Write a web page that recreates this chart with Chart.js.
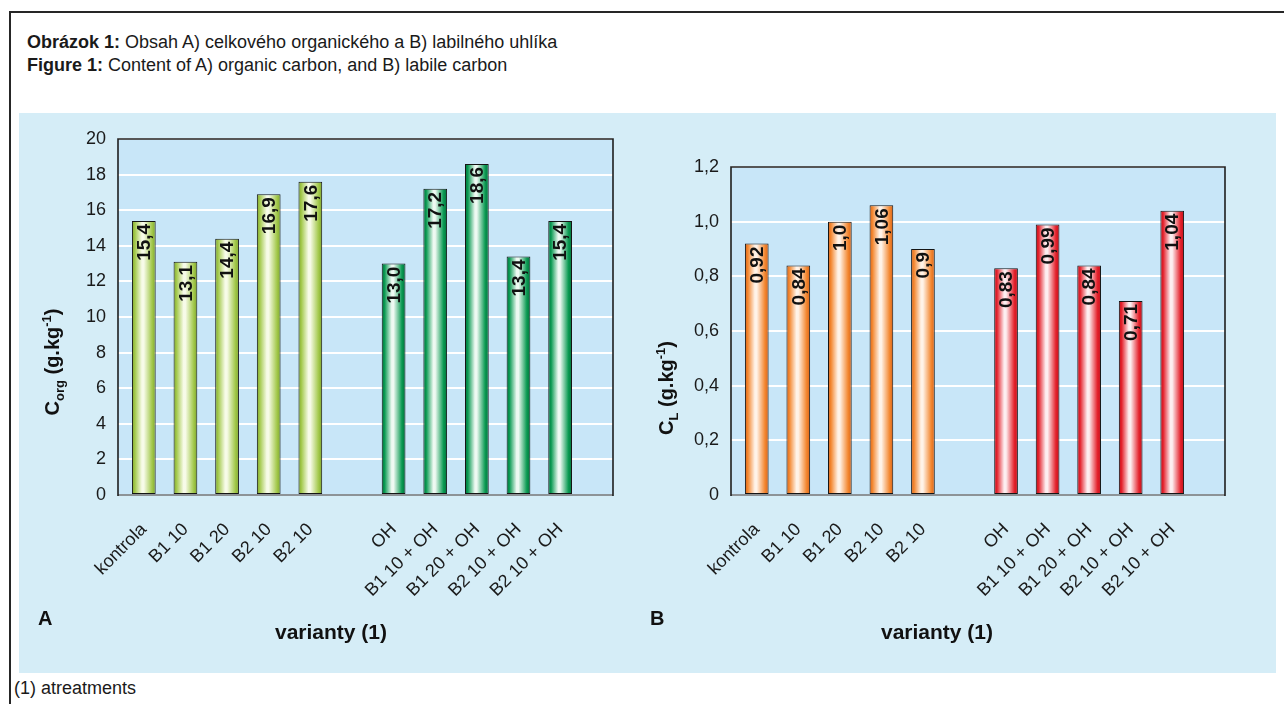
<!DOCTYPE html>
<html lang="sk">
<head>
<meta charset="utf-8">
<title>Obsah organického a labilného uhlíka</title>
<script src="https://cdn.jsdelivr.net/npm/chart.js@4.4.1/dist/chart.umd.min.js"></script>
<style>
  html, body { margin: 0; padding: 0; background: #ffffff; }
  body { position: relative; width: 1284px; height: 704px; overflow: hidden;
         font-family: "Liberation Sans", Arial, sans-serif; color: #1a1a1a; }
  #frame { position: absolute; left: 9px; top: 11px; width: 1400px; height: 800px;
           border-left: 2px solid #262626; border-top: 2px solid #262626; }
  #caption { position: absolute; left: 27px; top: 31px; font-size: 18px; line-height: 23px; }
  #caption b { font-weight: bold; }
  #panel { position: absolute; left: 19px; top: 113px; width: 1257px; height: 560px; background: #d5edf7; }
  #panel canvas { position: absolute; top: 0; }
  #cA { left: 0; }
  #cB { left: 621px; }
  #note { position: absolute; left: 14px; top: 678px; font-size: 18px; line-height: 21px; }
</style>
</head>
<body>
<div id="frame"></div>
<div id="caption">
  <div><b>Obrázok 1:</b> Obsah A) celkového organického a B) labilného uhlíka</div>
  <div><b>Figure 1:</b> Content of A) organic carbon, and B) labile carbon</div>
</div>
<div id="panel">
  <canvas id="cA" width="621" height="560"></canvas>
  <canvas id="cB" width="636" height="560"></canvas>
</div>
<div id="note">(1) atreatments</div>

<script>
// Treatment variants: without and with OH
const variantsBase = ['kontrola', 'B1 10', 'B1 20', 'B2 10', 'B2 10'];
const variantsOH = ['OH', 'B1 10 + OH', 'B1 20 + OH', 'B2 10 + OH', 'B2 10 + OH'];

// A) total organic carbon, g.kg-1
const corgBase = [15.4, 13.1, 14.4, 16.9, 17.6];
const corgOH = [13.0, 17.2, 18.6, 13.4, 15.4];

// B) labile carbon, g.kg-1
const clBase = [0.92, 0.84, 1.0, 1.06, 0.9];
const clOH = [0.83, 0.99, 0.84, 0.71, 1.04];
const clBaseText = ['0,92', '0,84', '1,0', '1,06', '0,9'];
const clOHText = ['0,83', '0,99', '0,84', '0,71', '1,04'];

// Y-axis tick labels
const corgTicks = ['0', '2', '4', '6', '8', '10', '12', '14', '16', '18', '20'];
const clTicks = ['0', '0,2', '0,4', '0,6', '0,8', '1,0', '1,2'];

// Category slots along the x axis; an empty slot separates the two groups
const slots = [...variantsBase, '', ...variantsOH];
const ohOffset = variantsBase.length + 1;

const FONT = '"Liberation Sans", Arial, sans-serif';
const BAR_FRACTION = 0.57;

// Cylinder-like horizontal shading for each bar
function cylinder(edge, mid, light) {
  return (c) => {
    const xs = c.chart.scales && c.chart.scales.x;
    if (c.type !== 'data' || !xs || !c.parsed) return mid;
    const cx = xs.getPixelForValue(c.parsed.x);
    const half = (xs.getPixelForValue(1) - xs.getPixelForValue(0)) * BAR_FRACTION / 2;
    if (!isFinite(cx) || !isFinite(half) || half <= 0) return mid;
    const g = c.chart.ctx.createLinearGradient(cx - half, 0, cx + half, 0);
    g.addColorStop(0, edge);
    g.addColorStop(0.12, mid);
    g.addColorStop(0.42, light);
    g.addColorStop(0.5, light);
    g.addColorStop(0.85, mid);
    g.addColorStop(1, edge);
    return g;
  };
}

// Plot background, frame, value labels inside the bars and axis titles
const plotDecor = {
  id: 'plotDecor',
  beforeDraw(chart) {
    const { ctx, chartArea: a } = chart;
    ctx.save();
    ctx.fillStyle = '#c8e6f8';
    ctx.fillRect(a.left, a.top, a.right - a.left, a.bottom - a.top);
    ctx.restore();
  },
  beforeDatasetsDraw(chart) {
    const { ctx, chartArea: a } = chart;
    ctx.save();
    ctx.lineWidth = 2;
    ctx.strokeStyle = '#8d9397';
    ctx.beginPath();
    ctx.moveTo(a.left, a.bottom);
    ctx.lineTo(a.right, a.bottom);
    ctx.stroke();
    ctx.lineWidth = 1.6;
    ctx.strokeStyle = '#1f1f1f';
    ctx.beginPath();
    ctx.moveTo(a.left, a.bottom + 1);
    ctx.lineTo(a.left, a.top);
    ctx.lineTo(a.right, a.top);
    ctx.lineTo(a.right, a.bottom + 1);
    ctx.stroke();
    ctx.restore();
  },
  afterDatasetsDraw(chart) {
    const { ctx } = chart;
    ctx.save();
    ctx.font = 'bold 19px ' + FONT;
    ctx.fillStyle = '#111111';
    ctx.textAlign = 'right';
    ctx.textBaseline = 'middle';
    chart.data.datasets.forEach((ds, di) => {
      const meta = chart.getDatasetMeta(di);
      meta.data.forEach((bar, i) => {
        ctx.save();
        ctx.translate(bar.x + 1, bar.y + 3);
        ctx.rotate(-Math.PI / 2);
        ctx.fillText(ds.valueText[i], 0, 0);
        ctx.restore();
      });
    });
    ctx.restore();
  },
  afterDraw(chart, args, opts) {
    const { ctx } = chart;
    ctx.save();
    ctx.fillStyle = '#111111';
    // panel letter
    ctx.font = 'bold 20px ' + FONT;
    ctx.textAlign = 'left';
    ctx.textBaseline = 'alphabetic';
    ctx.fillText(opts.letter, opts.letterX, opts.letterY);
    // x-axis title
    ctx.font = 'bold 21px ' + FONT;
    ctx.textAlign = 'center';
    ctx.textBaseline = 'middle';
    ctx.fillText('varianty (1)', opts.xTitleX, opts.xTitleY);
    // y-axis title with subscript and superscript
    const parts = [
      { t: 'C', size: 20, dy: 0 },
      { t: opts.sub, size: 13, dy: 5 },
      { t: ' (g.kg', size: 20, dy: 0 },
      { t: '-1', size: 13, dy: -8 },
      { t: ')', size: 20, dy: 0 }
    ];
    let total = 0;
    parts.forEach(p => { ctx.font = 'bold ' + p.size + 'px ' + FONT; p.w = ctx.measureText(p.t).width; total += p.w; });
    ctx.translate(opts.yTitleX, opts.yTitleY);
    ctx.rotate(-Math.PI / 2);
    ctx.textAlign = 'left';
    ctx.textBaseline = 'alphabetic';
    let x = -total / 2;
    parts.forEach(p => {
      ctx.font = 'bold ' + p.size + 'px ' + FONT;
      ctx.fillText(p.t, x, 7 + p.dy);
      x += p.w;
    });
    ctx.restore();
  }
};

function makeChart(id, cfg) {
  const toPoints = (vals, offset) => vals.map((y, i) => ({ x: i + offset, y }));
  return new Chart(document.getElementById(id), {
    type: 'bar',
    data: {
      datasets: [
        {
          label: 'bez OH',
          data: toPoints(cfg.base, 0),
          valueText: cfg.baseText,
          backgroundColor: cylinder(cfg.colBase[0], cfg.colBase[1], cfg.colBase[2]),
          borderColor: '#151515',
          borderWidth: 1,
          borderSkipped: false
        },
        {
          label: 's OH',
          data: toPoints(cfg.oh, ohOffset),
          valueText: cfg.ohText,
          backgroundColor: cylinder(cfg.colOH[0], cfg.colOH[1], cfg.colOH[2]),
          borderColor: '#151515',
          borderWidth: 1,
          borderSkipped: false
        }
      ]
    },
    options: {
      responsive: false,
      animation: false,
      events: [],
      grouped: false,
      barPercentage: BAR_FRACTION,
      categoryPercentage: 1,
      layout: { padding: { top: cfg.padTop, right: cfg.padRight, left: 0, bottom: 0 } },
      plugins: {
        legend: { display: false },
        tooltip: { enabled: false },
        plotDecor: cfg.decor
      },
      scales: {
        x: {
          type: 'linear',
          offset: false,
          min: -0.62,
          max: 11.27,
          afterBuildTicks: (s) => {
            s.ticks = slots.map((l, i) => (l ? { value: i } : null)).filter(Boolean);
          },
          afterFit: (s) => { s.height = 178; },
          grid: { display: false },
          border: { display: false },
          ticks: {
            autoSkip: false,
            minRotation: 45,
            maxRotation: 45,
            padding: 16,
            color: '#1a1a1a',
            font: { family: FONT, size: 18 },
            callback: (v) => slots[v] || ''
          }
        },
        y: {
          min: 0,
          max: cfg.max,
          afterFit: (s) => { s.width = cfg.yWidth; },
          border: { display: false },
          grid: {
            drawTicks: false,
            lineWidth: 2,
            color: (c) => (c.tick && c.tick.value === 0 ? 'rgba(0,0,0,0)' : '#ffffff')
          },
          ticks: {
            stepSize: cfg.step,
            padding: 12,
            color: '#1a1a1a',
            font: { family: FONT, size: 18 },
            callback: (v, i) => cfg.tickText[i]
          }
        }
      }
    },
    plugins: [plotDecor]
  });
}

// A) organic carbon
makeChart('cA', {
  base: corgBase,
  oh: corgOH,
  baseText: corgBase.map(v => v.toFixed(1).replace('.', ',')),
  ohText: corgOH.map(v => v.toFixed(1).replace('.', ',')),
  colBase: ['#7fa52c', '#a2c84a', '#f7fbe8'],
  colOH: ['#00703a', '#0a9a52', '#eef9f2'],
  max: 20,
  step: 2,
  tickText: corgTicks,
  yWidth: 99,
  padTop: 26,
  padRight: 27,
  decor: { letter: 'A', letterX: 19, letterY: 512, xTitleX: 312, xTitleY: 520, yTitleX: 33, yTitleY: 249, sub: 'org' }
});

// B) labile carbon
makeChart('cB', {
  base: clBase,
  oh: clOH,
  baseText: clBaseText,
  ohText: clOHText,
  colBase: ['#d8631a', '#f3862e', '#fff3e8'],
  colOH: ['#c20f1a', '#e4222c', '#fdeef0'],
  max: 1.2,
  step: 0.2,
  tickText: clTicks,
  yWidth: 91,
  padTop: 54,
  padRight: 51,
  decor: { letter: 'B', letterX: 10, letterY: 512, xTitleX: 297, xTitleY: 520, yTitleX: 26, yTitleY: 275, sub: 'L' }
});
</script>
</body>
</html>
